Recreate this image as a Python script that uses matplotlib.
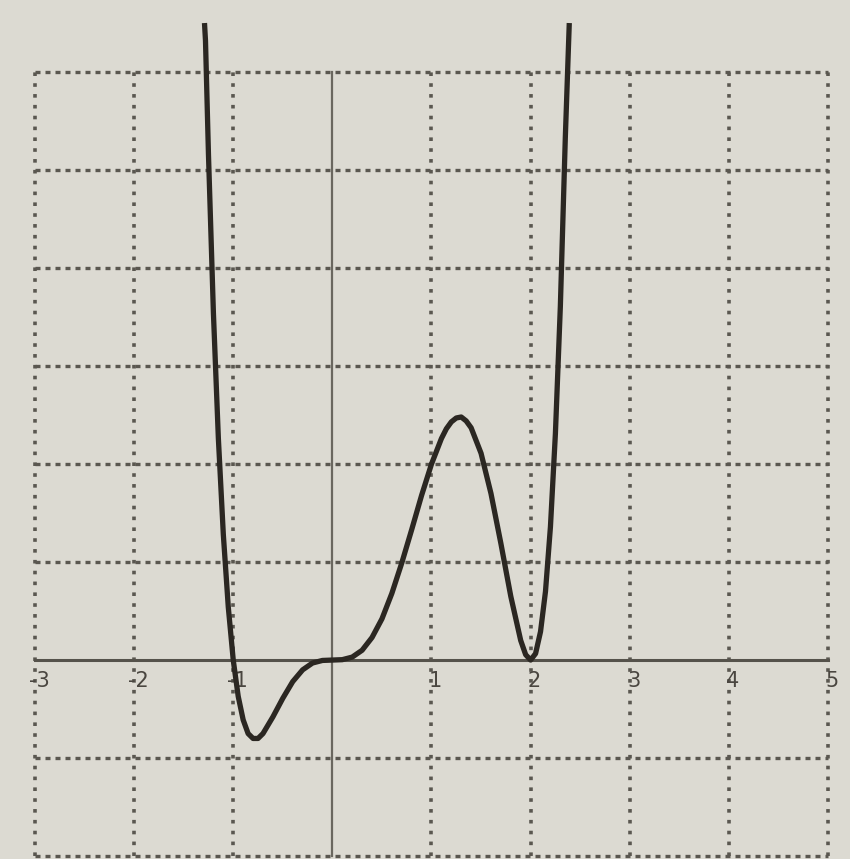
# Graph of a polynomial on dotted grid paper, recreated from a photo
import matplotlib.pyplot as plt

# DATA ---------------------------------------------------------------------------------------------
# points (x, y)
curve_x = [-1.29, -1.28, -1.25, -1.2, -1.15, -1.1, -1.05, -1.0, -0.95, -0.9, -0.85, -0.8, -0.75,
           -0.7, -0.6, -0.5, -0.4, -0.3, -0.2, -0.1, 0.0, 0.1, 0.2, 0.3, 0.4, 0.5, 0.6, 0.7,
           0.8, 0.9, 1.0, 1.1, 1.15, 1.2, 1.25, 1.3, 1.35, 1.4, 1.5, 1.6, 1.7, 1.8, 1.9, 1.95,
           2.0, 2.05, 2.1, 2.15, 2.2, 2.25, 2.3, 2.35, 2.39]
curve_y = [6.5, 6.32, 5.16, 3.54, 2.26, 1.28, 0.54, 0.0, -0.37, -0.61, -0.75, -0.80, -0.80,
           -0.75, -0.58, -0.39, -0.22, -0.10, -0.03, -0.004, 0.0, 0.004, 0.03, 0.10, 0.23, 0.42,
           0.68, 0.99, 1.33, 1.68, 2.0, 2.26, 2.36, 2.43, 2.47, 2.48, 2.44, 2.37, 2.11, 1.70,
           1.19, 0.65, 0.20, 0.055, 0.0, 0.066, 0.29, 0.70, 1.36, 2.31, 3.61, 5.33, 6.5]

x_ticks = [-3, -2, -1, 1, 2, 3, 4, 5]
tick_labels = ['-3', '-2', '-1', '1', '2', '3', '4', '5']
grid_x = [-3, -2, -1, 0, 1, 2, 3, 4, 5]
grid_y = [-2, -1, 0, 1, 2, 3, 4, 5, 6]

# FIGURE -------------------------------------------------------------------------------------------
paper = '#dcdad2'
ink = '#2b2722'
grid_col = '#5a5750'

fig = plt.figure(figsize=(8.5, 8.59), dpi=100, facecolor=paper)
ax = fig.add_axes([0, 0, 1, 1])
ax.set_facecolor(paper)

# dotted grid
for gx in grid_x:
    if gx == 0:
        continue
    ax.plot([gx, gx], [-2, 6], color=grid_col, linestyle=(0, (1, 2)), linewidth=2.6, zorder=1)
for gy in grid_y:
    if gy == 0:
        continue
    ax.plot([-3, 5], [gy, gy], color=grid_col, linestyle=(0, (1.5, 1.5)), linewidth=2.4, zorder=1)

# solid axes
ax.plot([-3, 5], [0, 0], color='#55524b', linewidth=2.2, zorder=2)
ax.plot([0, 0], [-2, 6], color='#6a675f', linewidth=1.6, zorder=2)

# tick labels on the x axis
for t, lab in zip(x_ticks, tick_labels):
    ax.text(t + 0.04, -0.21, lab, ha='center', va='center', fontsize=15,
            color='#4a4640', zorder=3)

# the curve
ax.plot(curve_x, curve_y, color=ink, linewidth=3.8, solid_capstyle='butt',
        solid_joinstyle='round', zorder=4)

ax.set_xlim(-3.353, 5.222)
ax.set_ylim(-2.03, 6.735)
ax.axis('off')

plt.savefig('out.png', dpi=100, facecolor=paper)
